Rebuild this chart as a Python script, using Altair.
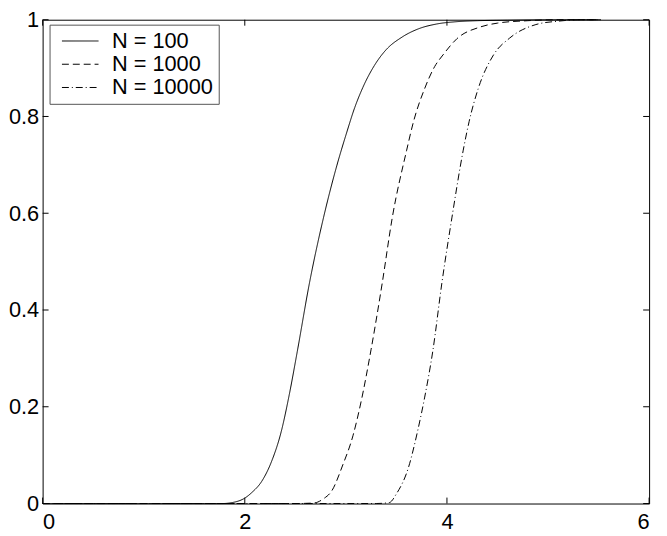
import altair as alt
import pandas as pd

# --- data ---
series_names = ["N = 100", "N = 1000", "N = 10000"]

x_n100 = [0, 1.0, 1.6, 1.78, 1.877, 2.006, 2.071, 2.168, 2.265, 2.361, 2.44, 2.52, 2.64, 2.78,
          2.91, 3.007, 3.087, 3.168, 3.281, 3.394, 3.555, 3.716, 3.894, 4.1, 4.3, 4.6, 5.0, 5.52]
y_n100 = [0, 0, 0, 0, 0.002, 0.012, 0.023, 0.046, 0.087, 0.149, 0.225, 0.315, 0.456, 0.592,
          0.698, 0.766, 0.818, 0.860, 0.905, 0.937, 0.964, 0.981, 0.991, 0.996, 0.998, 0.999, 1.0, 1.0]

x_n1000 = [0, 2.5, 2.68, 2.78, 2.86, 2.97, 3.07, 3.15, 3.25, 3.36, 3.46, 3.60, 3.67, 3.78,
           3.878, 3.96, 4.10, 4.33, 4.5, 4.8, 5.1, 5.52]
y_n1000 = [0, 0, 0.001, 0.010, 0.026, 0.080, 0.140, 0.210, 0.319, 0.456, 0.592, 0.729, 0.790, 0.858,
           0.903, 0.927, 0.961, 0.985, 0.993, 0.998, 1.0, 1.0]

x_n10000 = [0, 3.3, 3.43, 3.50, 3.62, 3.71, 3.78, 3.86, 3.95, 4.05, 4.16, 4.22, 4.31, 4.46,
            4.62, 4.88, 5.1, 5.33, 5.52]
y_n10000 = [0, 0, 0.002, 0.02, 0.075, 0.15, 0.22, 0.315, 0.456, 0.592, 0.729, 0.790, 0.858, 0.927,
            0.962, 0.990, 0.997, 1.0, 1.0]

x_ticks = [0, 2, 4, 6]
y_ticks = [0, 0.2, 0.4, 0.6, 0.8, 1]

rows = []
for name, xs, ys in zip(series_names, [x_n100, x_n1000, x_n10000], [y_n100, y_n1000, y_n10000]):
    for a, b in zip(xs, ys):
        rows.append({"x": a, "y": b, "series": name})
df = pd.DataFrame(rows)
xt_df = pd.DataFrame({"x": x_ticks})
yt_df = pd.DataFrame({"y": y_ticks})

W, H = 613, 489
FONT = "Liberation Sans"
FS = 22
TICK = 6

xscale = alt.Scale(domain=[0, 6], nice=False, zero=False)
yscale = alt.Scale(domain=[0, 1], nice=False, zero=False)
xaxis = alt.Axis(values=x_ticks, ticks=False, domain=False, grid=False, title=None,
                 labelFont=FONT, labelFontSize=FS, labelColor="black", labelPadding=8)
yaxis = alt.Axis(values=y_ticks, format=".1~f", ticks=False, domain=False, grid=False,
                 title=None, labelFont=FONT, labelFontSize=FS, labelColor="black",
                 labelPadding=4)

lines = alt.Chart(df).mark_line(color="black", strokeWidth=1, interpolate="monotone").encode(
    x=alt.X("x:Q", scale=xscale, axis=xaxis),
    y=alt.Y("y:Q", scale=yscale, axis=yaxis),
    strokeDash=alt.StrokeDash(
        "series:N",
        scale=alt.Scale(domain=series_names, range=[[1, 0], [7, 4], [7, 3, 1, 3]]),
        legend=alt.Legend(title=None, orient="none", legendX=7, legendY=5,
                          symbolType="M-1.68,0H1.68", symbolSize=484, symbolStrokeWidth=1,
                          symbolStrokeColor="black", symbolOffset=14.5,
                          labelFont=FONT, labelFontSize=FS, labelColor="black", labelOffset=20.5,
                          rowPadding=0.5, padding=5, strokeColor="#555", fillColor="white"),
    ),
)

bottom_ticks = alt.Chart(xt_df).mark_rule(color="black", strokeWidth=1).encode(
    x=alt.X("x:Q", scale=xscale, axis=xaxis), y=alt.value(H), y2=alt.value(H - TICK))
top_ticks = alt.Chart(xt_df).mark_rule(color="black", strokeWidth=1).encode(
    x=alt.X("x:Q", scale=xscale, axis=xaxis), y=alt.value(0), y2=alt.value(TICK))
left_ticks = alt.Chart(yt_df).mark_rule(color="black", strokeWidth=1).encode(
    y=alt.Y("y:Q", scale=yscale, axis=yaxis), x=alt.value(0), x2=alt.value(TICK))
right_ticks = alt.Chart(yt_df).mark_rule(color="black", strokeWidth=1).encode(
    y=alt.Y("y:Q", scale=yscale, axis=yaxis), x=alt.value(W), x2=alt.value(W - TICK))

chart = alt.layer(lines, bottom_ticks, top_ticks, left_ticks, right_ticks).properties(
    width=W, height=H,
    autosize=alt.AutoSizeParams(type="none"),
    padding={"left": 35, "top": 9, "right": 10, "bottom": 32},
    background="white",
).configure_view(stroke="black", strokeWidth=1)

chart.save("out.html", embed_options={"renderer": "svg", "actions": False})
